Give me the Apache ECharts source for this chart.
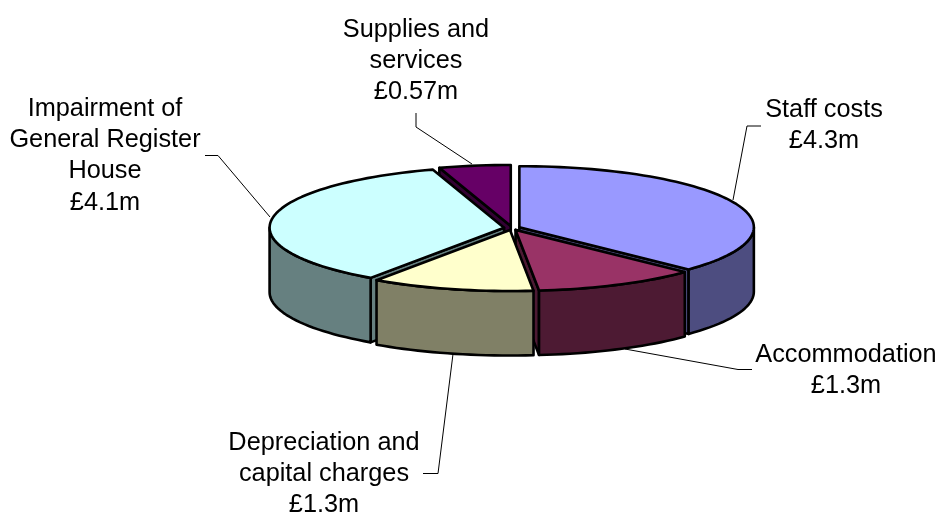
<!DOCTYPE html>
<html>
<head>
<meta charset="utf-8">
<style>html,body{margin:0;padding:0;background:#fff}#chart{width:939px;height:512px}</style>
<script src="https://cdn.jsdelivr.net/npm/echarts@6/dist/echarts.min.js"></script>
</head>
<body>
<div id="chart"></div>
<script>
// Expenditure breakdown, in £ million, clockwise from twelve o'clock
const categories = ['Staff costs', 'Accommodation', 'Depreciation and capital charges', 'Impairment of General Register House', 'Supplies and services'];
const values = [4.3, 1.3, 1.3, 4.1, 0.57];
const valueLabels = ['£4.3m', '£1.3m', '£1.3m', '£4.1m', '£0.57m'];
const labelLines = [
  ['Staff costs'],
  ['Accommodation'],
  ['Depreciation and', 'capital charges'],
  ['Impairment of', 'General Register', 'House'],
  ['Supplies and', 'services']
];
const topColors = ['#9999FF', '#993366', '#FFFFCC', '#CCFFFF', '#660066'];
const wallColors = ['#4D4D80', '#4D1A33', '#808066', '#668080', '#330033'];

// Disc geometry in pixels: centre, radii, extrusion depth, explosion distance
const disc = { cx: 512, cy: 228, rx: 234.5, ry: 61, depth: 64.5, burst: 8 };
const fontSize = 25.3;
const lineStep = 31.2;

// Where each label block sits (horizontal centre, first row centre) and its leader path
const labelLayout = [
  { x: 824, y: 110, leader: [[733, 200], [747, 126], [761, 126]] },
  { x: 846, y: 355, leader: [[625, 349], [738, 369.5], [752, 369.5]] },
  { x: 324, y: 443, leader: [[453, 354], [438, 473.5], [423, 473.5]] },
  { x: 105, y: 109, leader: [[270, 217], [218, 155.5], [205, 155.5]] },
  { x: 416, y: 30, leader: [[472, 164], [416, 127], [416, 113]] }
];

// Back-to-front painting rank of each slice
const paintRank = [1, 3, 4, 2, 0];

const total = values.reduce((a, b) => a + b, 0);
const RAD = Math.PI / 180;

function sliceAngles(index) {
  let start = 0;
  for (let i = 0; i < index; i++) start += values[i] / total * 360;
  return [start, start + values[index] / total * 360];
}

function rimPoint(c, deg, dy) {
  return [c[0] + disc.rx * Math.sin(deg * RAD), c[1] - disc.ry * Math.cos(deg * RAD) + dy];
}

function arcPoints(c, from, to, dy) {
  const pts = [];
  const steps = Math.max(2, Math.ceil((to - from) / 2));
  for (let i = 0; i <= steps; i++) pts.push(rimPoint(c, from + (to - from) * i / steps, dy));
  return pts;
}

function face(points, fill, z2) {
  return {
    type: 'polygon',
    z2: z2,
    shape: { points: points },
    style: { fill: fill, stroke: '#000', lineWidth: 2.6, lineJoin: 'round' }
  };
}

function renderSlice(params, api) {
  const i = params.dataIndex;
  const [a0, a1] = sliceAngles(i);
  const mid = (a0 + a1) / 2 * RAD;
  const c = [
    disc.cx + disc.burst * Math.sin(mid),
    disc.cy - disc.burst * (disc.ry / disc.rx) * Math.cos(mid)
  ];
  const base = (paintRank[i] + 1) * 10;
  const h = disc.depth;
  const children = [];

  // Radial cut walls, only where they face the viewer
  if (Math.sin(a0 * RAD) < 0) {
    const e = rimPoint(c, a0, 0);
    children.push(face([c, e, [e[0], e[1] + h], [c[0], c[1] + h]], wallColors[i], base));
  }
  if (Math.sin(a1 * RAD) > 0) {
    const e = rimPoint(c, a1, 0);
    children.push(face([c, e, [e[0], e[1] + h], [c[0], c[1] + h]], wallColors[i], base));
  }

  // Outer rim wall on the near half of the ellipse
  const from = Math.max(a0, 90);
  const to = Math.min(a1, 270);
  if (to > from) {
    const upper = arcPoints(c, from, to, 0);
    const lower = arcPoints(c, from, to, h).reverse();
    children.push(face(upper.concat(lower), wallColors[i], base + 1));
  }

  // Top face
  children.push(face([c].concat(arcPoints(c, a0, a1, 0)), topColors[i], base + 2));

  // Leader line and multi-line label
  const lay = labelLayout[i];
  children.push({
    type: 'polyline',
    z2: 100,
    shape: { points: lay.leader },
    style: { fill: null, stroke: '#000', lineWidth: 1 }
  });
  labelLines[i].concat(valueLabels[i]).forEach((line, k) => {
    children.push({
      type: 'text',
      z2: 101,
      style: {
        x: lay.x,
        y: lay.y + k * lineStep,
        text: line,
        fill: '#000',
        font: fontSize + 'px "Liberation Sans", Arial, sans-serif',
        align: 'center',
        verticalAlign: 'middle'
      }
    });
  });
  return { type: 'group', children: children };
}

const chart = echarts.init(document.getElementById('chart'), null, { renderer: 'canvas' });
chart.setOption({
  backgroundColor: '#ffffff',
  animation: false,
  series: [{
    type: 'custom',
    coordinateSystem: 'none',
    name: 'Expenditure',
    data: values.map((v, i) => ({ name: categories[i], value: [v] })),
    renderItem: renderSlice
  }]
});
</script>
</body>
</html>
